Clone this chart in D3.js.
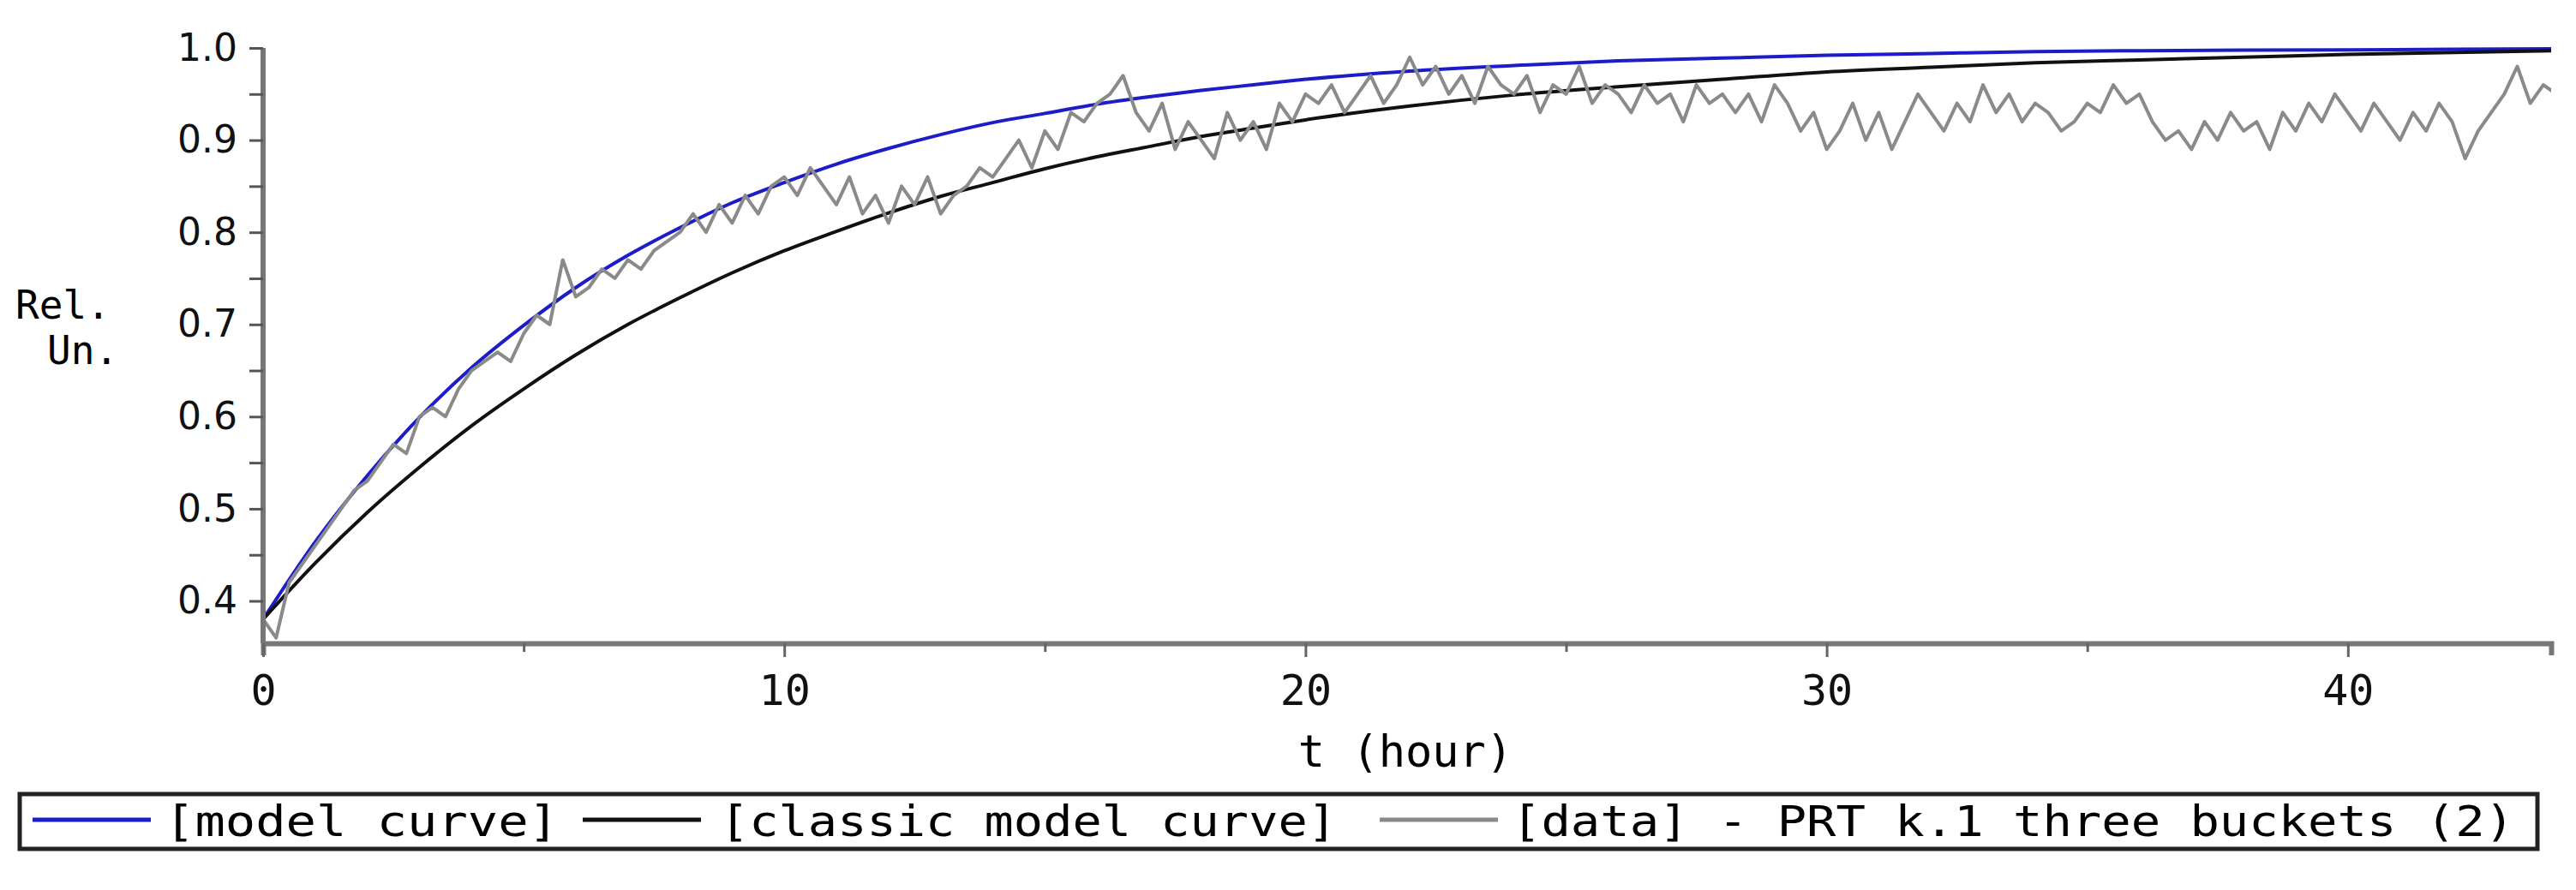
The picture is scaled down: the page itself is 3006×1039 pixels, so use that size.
<!DOCTYPE html>
<html><head><meta charset="utf-8">
<script src="https://cdn.jsdelivr.net/npm/d3@7"></script>
<style>body{margin:0;background:#fff}</style></head>
<body><svg id="c" width="3006" height="1039"></svg>
<script>
const modelT = [0,1,2,3,4,5,6,7,8,9,10,11,12,13,14,15,16,17,18,19,20,22,24,26,28,30,32,34,36,40,44];
const modelY = [.38,.464,.536,.599,.653,.699,.740,.775,.805,.832,.854,.874,.891,.906,.919,.929,.939,.947,.954,.960,.966,.975,.981,.986,.989,.992,.994,.996,.997,.998,.999];
const classicT = [0,1,2,3,4,5,6,7,8,9,10,11,12,13,14,15,16,17,18,19,20,22,24,26,28,30,32,34,36,38,40,44];
const classicY = [.38,.441,.496,.545,.590,.630,.667,.700,.729,.756,.780,.801,.821,.839,.854,.869,.882,.893,.904,.913,.922,.937,.949,.958,.966,.974,.979,.984,.987,.990,.993,.997];
const dataStep = 0.25;
const dataY = [0.38,0.36,0.42,0.44,0.46,0.48,0.50,0.52,0.53,
0.55,0.57,0.56,0.60,0.61,0.60,0.63,0.65,
0.66,0.67,0.66,0.69,0.71,0.70,0.77,0.73,
0.74,0.76,0.75,0.77,0.76,0.78,0.79,0.80,
0.82,0.80,0.83,0.81,0.84,0.82,0.85,0.86,
0.84,0.87,0.85,0.83,0.86,0.82,0.84,0.81,
0.85,0.83,0.86,0.82,0.84,0.85,0.87,0.86,
0.88,0.90,0.87,0.91,0.89,0.93,0.92,0.94,
0.95,0.97,0.93,0.91,0.94,0.89,0.92,0.90,
0.88,0.93,0.90,0.92,0.89,0.94,0.92,0.95,
0.94,0.96,0.93,0.95,0.97,0.94,0.96,0.99,
0.96,0.98,0.95,0.97,0.94,0.98,0.96,0.95,
0.97,0.93,0.96,0.95,0.98,0.94,0.96,0.95,
0.93,0.96,0.94,0.95,0.92,0.96,0.94,0.95,
0.93,0.95,0.92,0.96,0.94,0.91,0.93,0.89,
0.91,0.94,0.90,0.93,0.89,0.92,0.95,0.93,
0.91,0.94,0.92,0.96,0.93,0.95,0.92,0.94,
0.93,0.91,0.92,0.94,0.93,0.96,0.94,0.95,
0.92,0.90,0.91,0.89,0.92,0.90,0.93,0.91,
0.92,0.89,0.93,0.91,0.94,0.92,0.95,0.93,
0.91,0.94,0.92,0.90,0.93,0.91,0.94,0.92,
0.88,0.91,0.93,0.95,0.98,0.94,0.96,0.95];
const xTicks = [0,10,20,30,40];
const yTicks = [0.4,0.5,0.6,0.7,0.8,0.9,1.0];
const legendLabels = ["[model curve]","[classic model curve]","[data] - PRT k.1 three buckets (2)"];
const colors = ["#1c1cc8","#111111","#8a8a8a"];

const svg = d3.select("#c");
const x = d3.scaleLinear().domain([0,43.9]).range([307,2977]);
const y = d3.scaleLinear().domain([0.354,1.0]).range([751,56]);
const mono = "'DejaVu Sans Mono', monospace";
svg.append("clipPath").attr("id","cp").append("rect").attr("x",307).attr("y",40).attr("width",2670).attr("height",720);

const line = d3.line().x(d=>x(d[0])).y(d=>y(d[1])).curve(d3.curveMonotoneX);
const g = svg.append("g").attr("clip-path","url(#cp)");
const dataPts = dataY.map((v,i)=>[i*dataStep,v]);
g.append("path").attr("d",line(modelT.map((t,i)=>[t,modelY[i]]))).attr("fill","none").attr("stroke",colors[0]).attr("stroke-width",4);
g.append("path").attr("d",line(classicT.map((t,i)=>[t,classicY[i]]))).attr("fill","none").attr("stroke",colors[1]).attr("stroke-width",4);
g.append("path").attr("d",d3.line().x(d=>x(d[0])).y(d=>y(d[1]))(dataPts)).attr("fill","none").attr("stroke",colors[2]).attr("stroke-width",4).attr("stroke-linejoin","round");

const ax = svg.append("g").attr("transform","translate(0,751)").call(d3.axisBottom(x).tickValues(d3.range(0,44,5)).tickSize(14).tickFormat(d=>xTicks.includes(d)?d:""));
ax.select(".domain").attr("stroke","#777").attr("stroke-width",6);
ax.selectAll(".tick line").attr("stroke","#666").attr("stroke-width",3).attr("y2",d=>d%10===0?16:10);
ax.selectAll(".tick text").attr("font-family",mono).attr("font-size",50).attr("fill","#111").attr("dy","1.1em");
const ay = svg.append("g").attr("transform","translate(307,0)").call(d3.axisLeft(y).tickValues(d3.range(0.4,1.001,0.05)).tickSize(16).tickFormat(d=>yTicks.some(v=>Math.abs(v-d)<1e-6)?d.toFixed(1):""));
ay.select(".domain").attr("stroke","#777").attr("stroke-width",6).attr("d","M0,751V56");
ay.selectAll(".tick line").attr("stroke","#555").attr("stroke-width",3);
ay.selectAll(".tick text").attr("font-family","'DejaVu Sans', sans-serif").attr("font-size",44).attr("fill","#111").attr("x",-30);

svg.append("text").attr("x",18).attr("y",372).attr("font-family",mono).attr("font-size",46).text("Rel.");
svg.append("text").attr("x",55).attr("y",425).attr("font-family",mono).attr("font-size",46).text("Un.");
svg.append("text").attr("x",1640).attr("y",895).attr("text-anchor","middle").attr("font-family",mono).attr("font-size",52).text("t (hour)");

svg.append("rect").attr("x",23).attr("y",927).attr("width",2938).attr("height",64).attr("fill","#fff").attr("stroke","#222").attr("stroke-width",5);
const lx = [[38,176,192,460],[680,818,840,720],[1610,1748,1764,1170]];
legendLabels.forEach((l,i)=>{
  svg.append("line").attr("x1",lx[i][0]).attr("x2",lx[i][1]).attr("y1",957).attr("y2",957).attr("stroke",colors[i]).attr("stroke-width",5);
  svg.append("text").attr("x",lx[i][2]).attr("y",976).attr("font-family",mono).attr("font-size",50).attr("textLength",lx[i][3]).attr("lengthAdjust","spacingAndGlyphs").text(l);
});
</script></body></html>
